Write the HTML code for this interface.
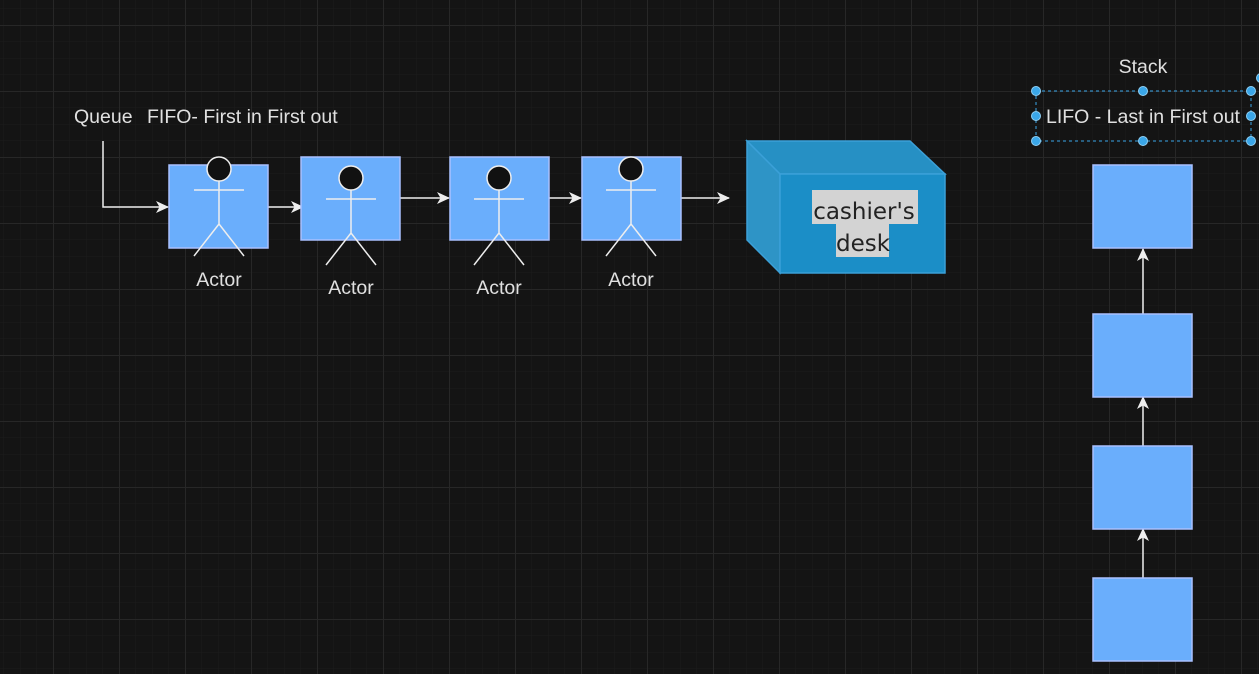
<!DOCTYPE html>
<html><head><style>
html,body{margin:0;padding:0;background:#141414;}
svg{display:block;}
text{font-family:"Liberation Sans",Arial,sans-serif;}
</style></head><body>
<svg width="1259" height="674" viewBox="0 0 1259 674" xmlns="http://www.w3.org/2000/svg">
<defs>
<pattern id="minor" x="3.5" y="8.5" width="16.5" height="16.5" patternUnits="userSpaceOnUse">
<path d="M0 0V16.5M0 0H16.5" stroke="#1c1c1c" stroke-width="1" fill="none"/>
</pattern>
<pattern id="major" x="53" y="25" width="66" height="66" patternUnits="userSpaceOnUse">
<path d="M0.5 0V66M0 0.5H66" stroke="#272727" stroke-width="1" fill="none"/>
</pattern>
<marker id="ah" markerWidth="14" markerHeight="14" refX="12" refY="7" orient="auto" markerUnits="userSpaceOnUse">
<path d="M0 1 L13 7 L0 13 L3.5 7 Z" fill="#eeeeee"/>
</marker>
</defs>
<rect width="1259" height="674" fill="#141414"/>
<rect width="1259" height="674" fill="url(#minor)"/>
<rect width="1259" height="674" fill="url(#major)"/>

<g fill="#e0e0e0" font-size="19.5">
<text x="74" y="123">Queue</text>
<text x="147" y="123">FIFO- First in First out</text>
<text x="1143" y="73" text-anchor="middle">Stack</text>
<text x="1143" y="123" text-anchor="middle">LIFO - Last in First out</text>
</g>

<g stroke="#eeeeee" stroke-width="1.5" fill="none">
<path d="M103 141 V207 H168" marker-end="url(#ah)"/>
<path d="M268 207 H303" marker-end="url(#ah)"/>
<path d="M400 198 H449" marker-end="url(#ah)"/>
<path d="M549 198 H581" marker-end="url(#ah)"/>
<path d="M681 198 H729" marker-end="url(#ah)"/>
<path d="M1143 314 V249" marker-end="url(#ah)"/>
<path d="M1143 446 V397" marker-end="url(#ah)"/>
<path d="M1143 578 V529" marker-end="url(#ah)"/>
</g>

<g fill="#6aaefc" stroke="#a9c0ff" stroke-width="1.5">
<rect x="169" y="165" width="99" height="83"/>
<rect x="301" y="157" width="99" height="83"/>
<rect x="450" y="157" width="99" height="83"/>
<rect x="582" y="157" width="99" height="83"/>
<rect x="1093" y="165" width="99" height="83"/>
<rect x="1093" y="314" width="99" height="83"/>
<rect x="1093" y="446" width="99" height="83"/>
<rect x="1093" y="578" width="99" height="83"/>
</g>

<g stroke="#eeeeee" stroke-width="1.5" fill="none">
<g transform="translate(219,169)">
<circle r="12" fill="#111"/><path d="M0 12V55M-25 21H25M-25 87L0 55L25 87"/></g>
<g transform="translate(351,178)">
<circle r="12" fill="#111"/><path d="M0 12V55M-25 21H25M-25 87L0 55L25 87"/></g>
<g transform="translate(499,178)">
<circle r="12" fill="#111"/><path d="M0 12V55M-25 21H25M-25 87L0 55L25 87"/></g>
<g transform="translate(631,169)">
<circle r="12" fill="#111"/><path d="M0 12V55M-25 21H25M-25 87L0 55L25 87"/></g>
</g>
<g fill="#e0e0e0" font-size="19.5" text-anchor="middle">
<text x="219" y="286">Actor</text>
<text x="351" y="294">Actor</text>
<text x="499" y="294">Actor</text>
<text x="631" y="286">Actor</text>
</g>

<g stroke="#3ba0d8" stroke-width="1.5">
<polygon points="747,141 910,141 945,174 780,174" fill="#2690c4"/>
<polygon points="747,141 780,174 780,273 747,240" fill="#2e94c6"/>
<rect x="780" y="174" width="165" height="99" fill="#1b8ec7"/>
</g>
<rect x="812" y="190" width="106" height="34" fill="#d3d3d3"/>
<rect x="836" y="224" width="53" height="33" fill="#d3d3d3"/>
<g fill="#222" font-size="23" text-anchor="middle">
<text x="864" y="219" style="font-family:'DejaVu Sans',sans-serif">cashier's</text>
<text x="863" y="251" style="font-family:'DejaVu Sans',sans-serif">desk</text>
</g>

<rect x="1036" y="91" width="215" height="50" fill="none" stroke="#3aa6e8" stroke-width="1" stroke-dasharray="3 3"/>
<g fill="#3aa6e8" stroke="#8fd0f5" stroke-width="1">
<circle cx="1036" cy="91" r="4.5"/><circle cx="1143" cy="91" r="4.5"/><circle cx="1251" cy="91" r="4.5"/>
<circle cx="1036" cy="116" r="4.5"/><circle cx="1251" cy="116" r="4.5"/>
<circle cx="1036" cy="141" r="4.5"/><circle cx="1143" cy="141" r="4.5"/><circle cx="1251" cy="141" r="4.5"/>
<circle cx="1261" cy="78" r="4.5"/>
</g>
</svg>
</body></html>
